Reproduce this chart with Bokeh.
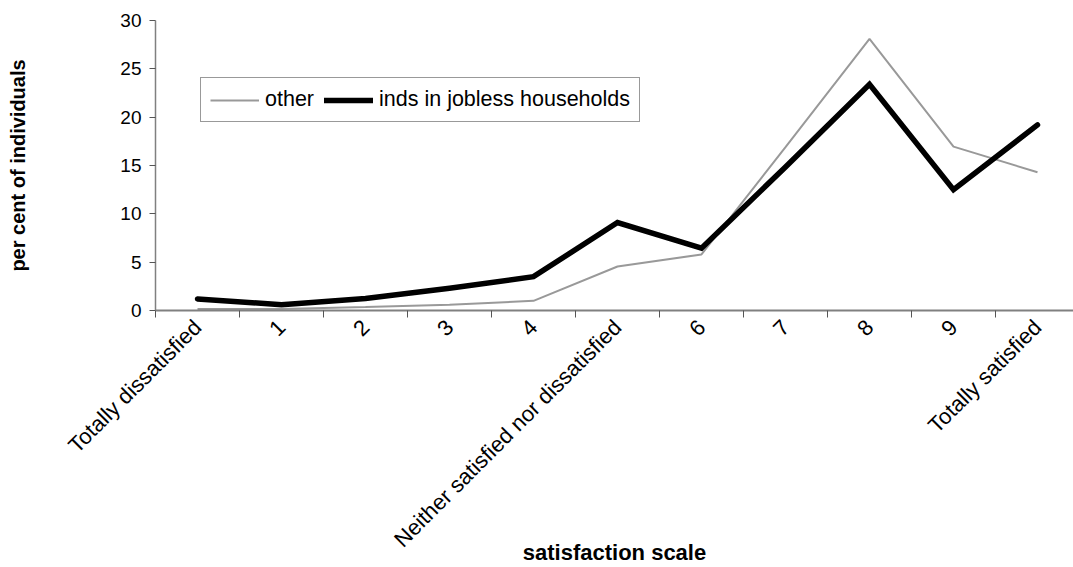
import math
from bokeh.plotting import figure
from bokeh.models import Range1d, FixedTicker, Legend, LegendItem
from bokeh.embed import file_html
from bokeh.resources import INLINE

categories = ["Totally dissatisfied", "1", "2", "3", "4",
              "Neither satisfied nor dissatisfied", "6", "7", "8", "9",
              "Totally satisfied"]
other = [0.15, 0.15, 0.35, 0.6, 1.0, 4.55, 5.8, 16.9, 28.1, 16.95, 14.3]
jobless = [1.2, 0.6, 1.25, 2.3, 3.5, 9.1, 6.45, 14.85, 23.4, 12.5, 19.2]
y_ticks = [0, 5, 10, 15, 20, 25, 30]

FONT = "Liberation Sans"
AX = "#808080"

x = list(range(len(categories)))
cat_px = 84.0
left, top, bottom = 155, 20, 257
W, H = 1073, 567
frame_w = W - left
x_end = frame_w / cat_px - 0.5

p = figure(width=W, height=H, output_backend="svg", toolbar_location=None,
           x_range=Range1d(-0.5, x_end), y_range=Range1d(0, 30),
           min_border_left=left, min_border_top=top,
           min_border_bottom=bottom, min_border_right=0)
p.outline_line_color = None
p.xgrid.visible = False
p.ygrid.visible = False
p.background_fill_color = "white"
p.border_fill_color = "white"

r_other = p.line(x, other, line_color="#999999", line_width=2)
r_job = p.line(x, jobless, line_color="black", line_width=5.5,
               line_cap="round", line_join="miter")

# x axis: ticks at category boundaries, labels at centres
xa = p.xaxis[0]
xa.ticker = FixedTicker(ticks=x, minor_ticks=[i - 0.5 for i in range(len(categories) + 1)])
xa.major_label_overrides = {i: c for i, c in enumerate(categories)}
xa.major_tick_out = 0
xa.major_tick_in = 0
xa.minor_tick_out = 7
xa.minor_tick_in = 0
xa.minor_tick_line_color = "#555555"
xa.axis_line_color = AX
xa.axis_line_width = 2
xa.major_label_orientation = math.pi / 4
xa.major_label_standoff = 6
xa.major_label_text_font = FONT
xa.major_label_text_font_size = "22px"
xa.major_label_text_color = "black"
xa.axis_label = "satisfaction scale"
xa.axis_label_text_font = FONT
xa.axis_label_text_font_size = "22px"
xa.axis_label_text_font_style = "bold"
xa.axis_label_text_color = "black"
xa.axis_label_standoff = -24

ya = p.yaxis[0]
ya.ticker = FixedTicker(ticks=y_ticks)
ya.minor_tick_line_color = None
ya.major_tick_out = 6
ya.major_tick_in = 0
ya.major_tick_line_color = "#555555"
ya.axis_line_color = AX
ya.axis_line_width = 1.5
ya.major_label_text_font = FONT
ya.major_label_text_font_size = "19px"
ya.major_label_text_color = "black"
ya.major_label_standoff = 8
ya.axis_label = "per cent of individuals"
ya.axis_label_text_font = FONT
ya.axis_label_text_font_size = "20px"
ya.axis_label_text_font_style = "bold"
ya.axis_label_text_color = "black"
ya.axis_label_standoff = 88

legend = Legend(items=[LegendItem(label="other", renderers=[r_other]),
                       LegendItem(label="inds in jobless households", renderers=[r_job])],
                orientation="horizontal", location=(45, 188), margin=0,
                padding=9, spacing=10, glyph_width=49, label_standoff=6,
                label_text_font=FONT, label_text_font_size="21.5px",
                label_text_color="black",
                border_line_color="#333333", border_line_width=1,
                background_fill_color="white", background_fill_alpha=1)
p.add_layout(legend, "center")

open("out.html", "w").write(file_html(p, INLINE))
